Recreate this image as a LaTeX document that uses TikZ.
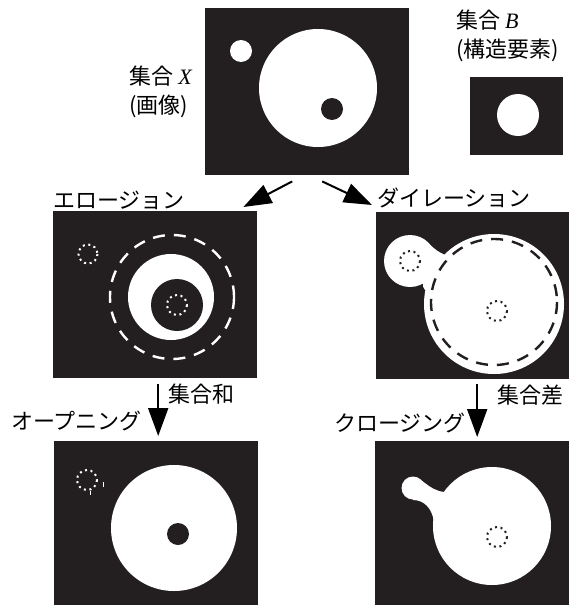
\documentclass[tikz,border=0pt]{standalone}
\usepackage{fontspec}
\setmainfont{Noto Sans CJK JP}
\newfontfamily\latinserif{Liberation Serif}
\usepackage{tikz}
\usetikzlibrary{positioning, arrows.meta, calc}
\definecolor{imgblack}{RGB}{35,31,32}

\begin{document}
\begin{tikzpicture}[x=1pt, y=-1pt,
			font=\fontsize{22pt}{29pt}\selectfont,
			panel/.style={fill=imgblack, inner sep=0pt, minimum width=204pt, minimum height=167pt, anchor=north west},
			txt/.style={inner sep=0pt, align=left},
			bigarrow/.style={line width=2pt, -{Triangle[length=28pt, width=20pt]}},
			dashring/.style={line width=2.4pt, dash pattern=on 12pt off 9pt},
			dotring/.style={line width=2pt, dash pattern=on 2pt off 3.6pt}]
			
			\useasboundingbox (0,0) rectangle (568,605);
			
			% images
			\node[panel] (imgX) at (205,8) {};
			\node[panel, minimum width=93pt, minimum height=78pt] (strel) at (470,77) {};
			\node[panel] (ero) at (53,211) {};
			\node[panel] (dil) at (376,212) {};
			\node[panel] (opening) at (54,441) {};
			\node[panel] (closing) at (375,441) {};
			
			% set X
			\fill[white] (241,51) circle[radius=11];
			\fill[white] (318,88) circle[radius=59];
			\fill[imgblack] (332,109) circle[radius=11];
			
			% set B
			\fill[white] (518,115) circle[radius=21];
			
			% erosion
			\draw[white, dotring] (88,254) circle[radius=9.5];
			\draw[white, dashring] (172,297) circle[radius=62];
			\fill[white] (171,297) circle[radius=43];
			\fill[imgblack] (177,305) circle[radius=26];
			\draw[white, dotring] (177,305) circle[radius=10];
			
			% dilation
			\fill[white] (410,261) circle[radius=26];
			\fill[white] (494,304) circle[radius=70];
			\fill[white] (428,243) .. controls (437,251) .. (445,255) -- (440,290)
				-- (425,290) .. controls (423,287) .. (423,284) -- (410,261) -- cycle;
			\draw[imgblack, dashring] (494,302) circle[radius=63];
			\draw[imgblack, dotring] (410,261) circle[radius=10];
			\draw[imgblack, dotring] (497,311) circle[radius=10];
			
			% opening
			\fill[white] (174,528) circle[radius=63];
			\fill[imgblack] (178,534) circle[radius=11];
			\draw[white, dotring] (87,480) circle[radius=10];
			\draw[white, line width=0.8pt] (103,482) -- (103,487) (90,491) -- (90,495);
			
			% closing
			\fill[white] (492,526) circle[radius=59];
			\fill[white] (413,488) circle[radius=11.5];
			\fill[white] (413,477) .. controls (422,477) and (428,490) .. (444,492) -- (450,510)
				-- (434,522) .. controls (432,508) and (424,500) .. (413,500) -- cycle;
			\draw[imgblack, dotring] (497,537) circle[radius=10];
			
			% labels
			\node[txt, left=13pt of imgX] (lblX) {集合 {\latinserif\itshape X}\\(画像)};
			\node[txt, anchor=north west] (lblB) at (456,10) {集合 {\latinserif\itshape B}\\(構造要素)};
			\node[txt, above right=1pt and 0pt of ero.north west] (lblEro) {エロージョン};
			\node[txt, above right=4pt and 1pt of dil.north west] (lblDil) {ダイレーション};
			\node[txt, anchor=west] (lblUnion) at (168,394) {集合和};
			\node[txt, anchor=east] (lblOpen) at (142,421) {オープニング};
			\node[txt, anchor=west] (lblDiff) at (497,395) {集合差};
			\node[txt, anchor=east] (lblClose) at (466,423) {クロージング};
			
			% arrows
			\draw[bigarrow] ($(imgX.south)+(-15,6)$) -- ($(ero.north east)+(-14,-4)$);
			\draw[bigarrow] ($(imgX.south)+(15,6)$) -- ($(dil.north west)+(-4,-7)$);
			\draw[bigarrow] ($(ero.south)+(3,6)$) -- ($(opening.north)+(2,-5)$);
			\draw[bigarrow] ($(dil.south)+(-1,5)$) -- ($(closing.north)+(0,-4)$);
		\end{tikzpicture}
\end{document}
